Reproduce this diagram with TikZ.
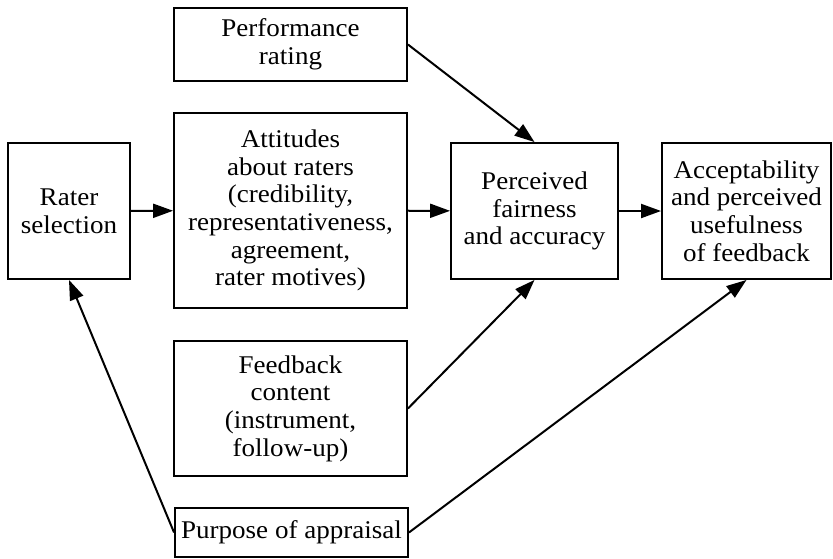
\documentclass[tikz,border=0pt]{standalone}
\usepackage{fontspec}
\setmainfont{Liberation Serif}[FakeStretch=1.06]
\usetikzlibrary{arrows.meta}
\begin{document}
\begin{tikzpicture}[x=1pt,y=-1pt,
  box/.style={draw=black,line width=1.9pt,inner sep=0pt,align=center,
    font=\fontsize{25.5}{27.7}\selectfont},
  link/.style={line width=2pt,-{Triangle[length=20pt,width=14pt]}}]
\useasboundingbox (0,0) rectangle (833,558);
% boxes
\node[box,minimum width=233pt,minimum height=73pt] (perf) at (290.5,44.5) {Performance\\rating};
\node[box,minimum width=233pt,minimum height=195pt] (att) at (290.5,210.5)
  {Attitudes\\about raters\\(credibility,\\representativeness,\\agreement,\\rater motives)};
\node[box,minimum width=122pt,minimum height=136pt] (rater) at (69,211) {Rater\\selection};
\node[box,minimum width=167pt,minimum height=136pt] (fair) at (534.5,211) {Perceived\\fairness\\and accuracy};
\node[box,minimum width=169pt,minimum height=136pt] (acc) at (746.5,211)
  {Acceptability\\and perceived\\usefulness\\of feedback};
\node[box,minimum width=233pt,minimum height=135pt] (feed) at (290.5,408.5)
  {Feedback\\content\\(instrument,\\follow-up)};
\node[box,minimum width=233pt,minimum height=49pt] (purp) at (291.5,532.5) {Purpose of appraisal};
% connectors
\draw[link] (rater) -- (att);
\draw[link] (att) -- (fair);
\draw[link] (fair) -- (acc);
\draw[link] (perf.east) -- (fair.north);
\draw[link] (feed.east) -- (fair.south);
\draw[link] (purp.east) -- (acc.south);
\draw[link] (purp.west) -- (rater.south);
\end{tikzpicture}
\end{document}
